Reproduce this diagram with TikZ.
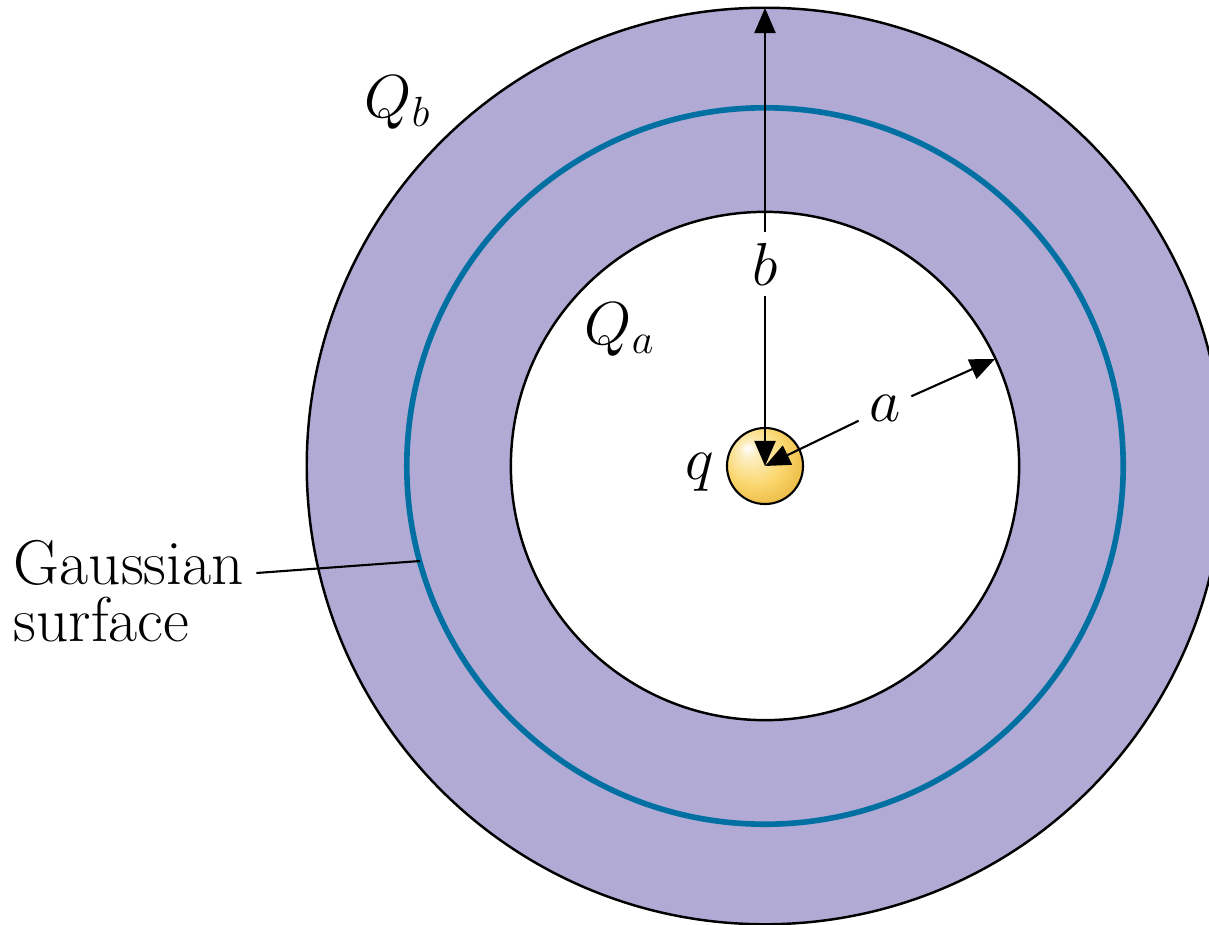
\documentclass[tikz,border=0pt]{standalone}
\usepackage{fontspec}
\usepackage{xcolor}
\usepackage{tikz}
\usetikzlibrary{arrows.meta,positioning,calc}
\definecolor{shellfill}{RGB}{176,170,212}
\definecolor{gaussblue}{RGB}{0,112,163}
\definecolor{chyel}{RGB}{250,215,110}
\definecolor{chorg}{RGB}{226,166,38}
\pgfdeclareradialshading{chargeball}{\pgfpoint{-12bp}{12bp}}{color(0bp)=(white); color(6bp)=(white!55!chyel); color(20bp)=(chyel); color(40bp)=(chorg); color(50bp)=(chorg)}
\tikzset{
  shell/.style={draw=black, line width=0.7pt},
  gsurf/.style={draw=gaussblue, line width=1.6pt},
  ar/.style={-{Triangle[length=0.25cm, width=0.21cm]}, line width=0.6pt},
  lbl/.style={font=\fontsize{17.28}{20}\selectfont, inner sep=0.1cm},
  lead/.style={line width=0.6pt}
}

\begin{document}
\begin{tikzpicture}[x=0.01cm, y=-0.01cm,
  charge/.style={circle, draw=black, line width=0.6pt, shading=chargeball,
                 minimum size=0.76cm, inner sep=0pt},
  txt/.style={font=\fontsize{18}{16.2}\selectfont, align=left, inner sep=0pt}
]
\clip (0,0) rectangle (1209,924);
\coordinate (ctr) at (765,466);
\coordinate (btop) at (765,8);
\coordinate (aend) at (995,359);
\coordinate (gs) at (420,561);
% shell and gaussian surface
\draw[shell, fill=shellfill] (ctr) circle[radius=4.58cm];
\draw[gsurf] (ctr) circle[radius=3.58cm];
\draw[shell, fill=white] (ctr) circle[radius=2.54cm];
\node[charge] (q) at (ctr) {};
% radii
\node[lbl] (lb) at (765,264) {$b$};
\node[lbl] (la) at (885,408) {$a$};
\draw[ar] (lb) -- (btop);
\draw[ar] (lb) -- (q.center);
\draw[ar] (la) -- (aend);
\draw[ar] (la) -- (q.center);
% labels
\node[lbl, inner sep=0pt] (qb) at (398,103) {$Q_b$};
\node[lbl, inner sep=0pt] (qa) at (620,330) {$Q_a$};
\node[lbl, inner sep=0pt] (qlab) at (700,472) {$q$};
\node[txt, anchor=north west] (gauss) at (13,540) {Gaussian\\surface};
\draw[lead] ([shift={(12,33)}]gauss.north east) -- (gs);
\end{tikzpicture}
\end{document}
